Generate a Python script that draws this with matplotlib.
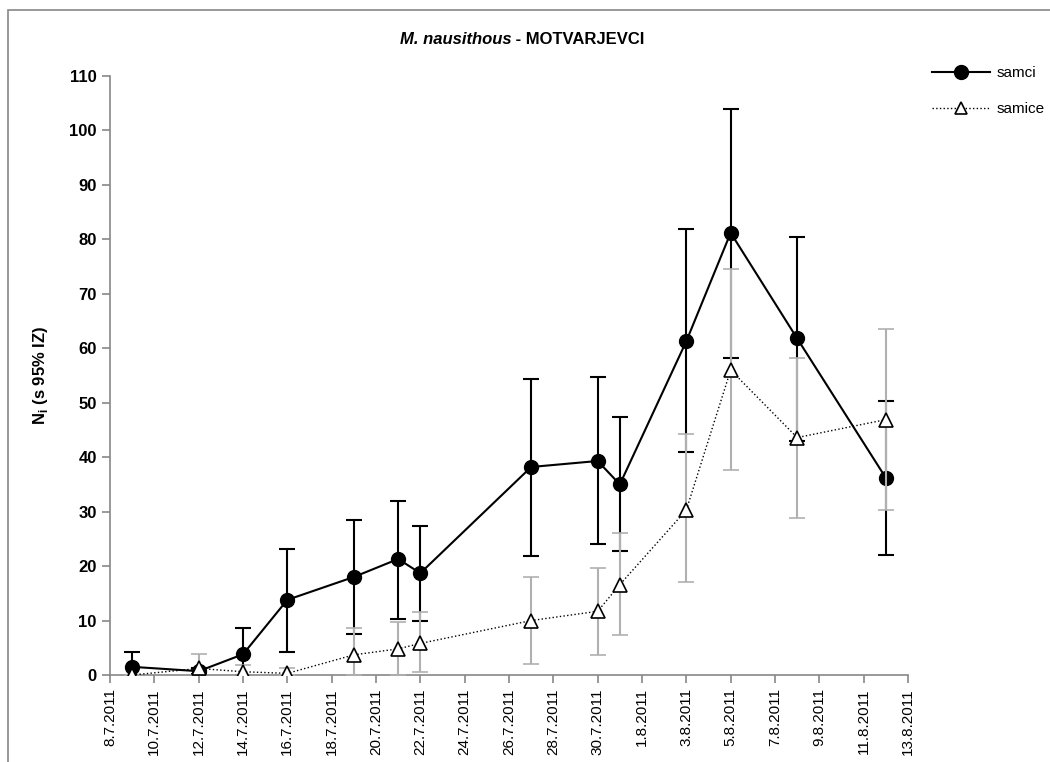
import numpy as np
import matplotlib
matplotlib.use("Agg")
import matplotlib.pyplot as plt
import matplotlib.dates as mdates
from matplotlib.patches import Rectangle
from matplotlib.lines import Line2D
from datetime import date, timedelta

plt.rcParams['font.family'] = ['Liberation Sans Narrow', 'Liberation Sans', 'DejaVu Sans']

# datumi vzorcenja
datumi = [date(2011, 7, 9), date(2011, 7, 12), date(2011, 7, 14), date(2011, 7, 16),
          date(2011, 7, 19), date(2011, 7, 21), date(2011, 7, 22), date(2011, 7, 27),
          date(2011, 7, 30), date(2011, 7, 31), date(2011, 8, 3), date(2011, 8, 5),
          date(2011, 8, 8), date(2011, 8, 12)]

samci = [1.5, 0.7, 3.8, 13.8, 18.0, 21.3, 18.7, 38.2, 39.3, 35.0, 61.3, 81.2, 61.8, 36.2]
samci_zg = [4.2, 1.2, 8.7, 23.2, 28.5, 32.0, 27.4, 54.4, 54.7, 47.3, 81.9, 104.0, 80.5, 50.4]
samci_sp = [0.0, 0.2, 0.0, 4.2, 7.5, 10.3, 10.0, 21.8, 24.0, 22.7, 41.0, 58.3, 43.0, 22.0]

samice = [0.0, 1.2, 0.6, 0.3, 3.7, 4.8, 5.8, 10.0, 11.7, 16.6, 30.3, 56.0, 43.6, 46.9]
samice_zg = [0.0, 3.8, 1.8, 1.3, 8.7, 9.8, 11.6, 18.0, 19.7, 26.0, 44.2, 74.5, 58.3, 63.6]
samice_sp = [0.0, 0.0, 0.0, 0.0, 0.0, 0.0, 0.5, 2.1, 3.6, 7.3, 17.0, 37.6, 28.9, 30.3]

x = mdates.date2num(datumi)
samci = np.array(samci)
samice = np.array(samice)
err_m = [samci - np.array(samci_sp), np.array(samci_zg) - samci]
err_f = [samice - np.array(samice_sp), np.array(samice_zg) - samice]

fig = plt.figure(figsize=(10.5, 7.62), dpi=100)
# okvir grafikona
fig.patches.append(Rectangle((8 / 1050, -0.1), 1.2, 1.1 - 10 / 762, transform=fig.transFigure,
                             fill=False, edgecolor='#888888', linewidth=1.2))
ax = fig.add_axes([110 / 1050, 1 - 675 / 762, 798 / 1050, (675 - 76) / 762])

ax.errorbar(x, samci, yerr=err_m, fmt='-o', color='black', ecolor='black', elinewidth=1.5,
            capsize=6, capthick=1.5, markersize=10, linewidth=1.5, zorder=3)
ax.errorbar(x, samice, yerr=err_f, fmt=':^', color='black', ecolor='#b0b0b0', elinewidth=1.5,
            capsize=6, capthick=1.5, markersize=10, markerfacecolor='white', markeredgecolor='black',
            markeredgewidth=1.2, linewidth=1.0, zorder=4)

start = date(2011, 7, 8)
ticks = [start + timedelta(days=2 * i) for i in range(19)]
ax.set_xticks(mdates.date2num(ticks))
ax.set_xticklabels([f"{d.day}.{d.month}.{d.year}" for d in ticks], rotation=90, fontsize=11)
ax.set_xlim(mdates.date2num(ticks[0]), mdates.date2num(ticks[-1]))

ax.set_ylim(0, 110)
ax.set_yticks(range(0, 111, 10))
ax.set_yticklabels([str(v) for v in range(0, 111, 10)], fontweight='bold', fontsize=12)
ax.set_ylabel(r'N$_\mathregular{i}$ (s 95% IZ)', fontweight='bold', fontsize=12, labelpad=14)

for s in ['top', 'right']:
    ax.spines[s].set_visible(False)
for s in ['left', 'bottom']:
    ax.spines[s].set_color('#888888')
    ax.spines[s].set_linewidth(1.2)
ax.tick_params(axis='both', color='#888888', length=6, width=1.2, direction='out')

fig.text(0.487, 1 - 40 / 762, 'M. nausithous', fontsize=12, fontweight='bold', style='italic',
         ha='right', va='center')
fig.text(0.487, 1 - 40 / 762, ' - MOTVARJEVCI', fontsize=12, fontweight='bold',
         ha='left', va='center')

roke = [Line2D([], [], color='black', linewidth=1.5, marker='o', markersize=10),
        Line2D([], [], color='black', linewidth=1.0, linestyle=':', marker='^', markersize=9,
               markerfacecolor='white', markeredgewidth=1.2)]
fig.legend(roke, ['samci', 'samice'], loc='upper left', bbox_to_anchor=(932 / 1050, 1 - 66 / 762),
           frameon=False, fontsize=11, handlelength=3.8, handletextpad=0.4, labelspacing=1.45,
           borderaxespad=0, borderpad=0)

fig.savefig('out.png', dpi=100)
